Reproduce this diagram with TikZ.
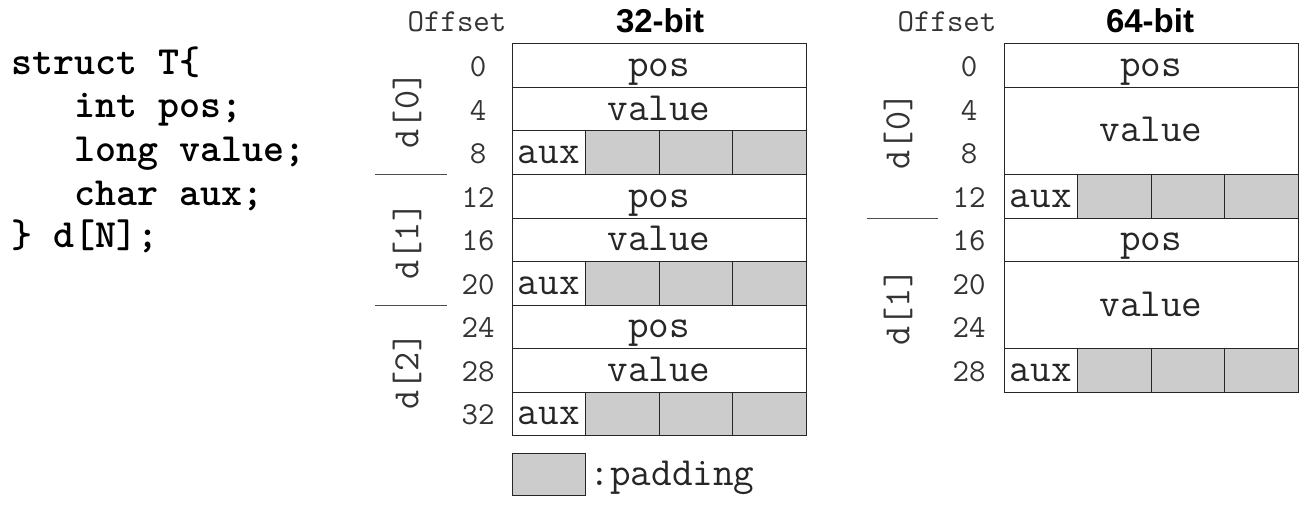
\documentclass[tikz,border=0pt]{standalone}
\usepackage{fontspec}
\setsansfont{Liberation Sans}
\usetikzlibrary{positioning}

\begin{document}
\begin{tikzpicture}[x=1pt,y=-1pt,
    cell/.style={draw=black!85,line width=1pt,minimum height=43.5pt,inner sep=0pt,outer sep=0pt,
        text height=26pt,text depth=4pt,text=black!85,font=\ttfamily\fontsize{40}{40}\selectfont},
    field/.style={cell,minimum width=294pt},
    wide/.style={field,minimum height=87pt},
    auxcell/.style={cell,minimum width=73.5pt},
    pad/.style={auxcell,fill=gray!40},
    offs/.style={text height=22pt,text depth=0pt,inner sep=0pt,text=black!80,font=\ttfamily\fontsize{32}{32}\selectfont},
    idx/.style={rotate=90,text=black!80,font=\ttfamily\fontsize{37}{37}\selectfont},
    sep/.style={draw=black!70,line width=1pt},
    title/.style={anchor=base,inner sep=0pt,font=\sffamily\bfseries\fontsize{33}{33}\selectfont},
    code/.style={anchor=base west,inner sep=0pt,font=\ttfamily\bfseries\fontsize{40}{40}\selectfont}]
    \useasboundingbox (0,0) rectangle (1310,508);

    % the struct
    \node[code] (c1) at (11,75) {struct T\{};
    \node[code] (c2) at (74,118) {int pos;};
    \node[code] (c3) at (74,162) {long value;};
    \node[code] (c4) at (74,205) {char aux;};
    \node[code] (c5) at (11,247) {\} d[N];};

    % 32-bit
    \node[title] (t32) at (660,33) {32-bit};
    \node[offs,anchor=base] (h32) at (457,32) {Offset};
    \node[field,anchor=north west] (p0) at (512,44) {pos};
    \node[field,below=0pt of p0] (v0) {value};
    \node[auxcell,anchor=north west] (a0) at (v0.south west) {aux};
    \node[pad,right=0pt of a0] (a0x) {};
    \node[pad,right=0pt of a0x] (a0y) {};
    \node[pad,right=0pt of a0y] (a0z) {};
    \node[field,anchor=north west] (p1) at (a0.south west) {pos};
    \node[field,below=0pt of p1] (v1) {value};
    \node[auxcell,anchor=north west] (a1) at (v1.south west) {aux};
    \node[pad,right=0pt of a1] (a1x) {};
    \node[pad,right=0pt of a1x] (a1y) {};
    \node[pad,right=0pt of a1y] (a1z) {};
    \node[field,anchor=north west] (p2) at (a1.south west) {pos};
    \node[field,below=0pt of p2] (v2) {value};
    \node[auxcell,anchor=north west] (a2) at (v2.south west) {aux};
    \node[pad,right=0pt of a2] (a2x) {};
    \node[pad,right=0pt of a2x] (a2y) {};
    \node[pad,right=0pt of a2y] (a2z) {};

    \node[offs] (o0) at (478,65.75) {0};
    \node[offs] (o4) at (478,109.25) {4};
    \node[offs] (o8) at (478,152.75) {8};
    \node[offs] (o12) at (478,196.25) {12};
    \node[offs] (o16) at (478,239.75) {16};
    \node[offs] (o20) at (478,283.25) {20};
    \node[offs] (o24) at (478,326.75) {24};
    \node[offs] (o28) at (478,370.25) {28};
    \node[offs] (o32) at (478,413.75) {32};

    \node[idx] (d0) at (407,110) {d[0]};
    \node[idx] (d1) at (407,241) {d[1]};
    \node[idx] (d2) at (407,371) {d[2]};
    \draw[sep] ([xshift=-137pt]a0.south west) -- ++(72,0);
    \draw[sep] ([xshift=-137pt]a1.south west) -- ++(72,0);

    % legend
    \node[pad,minimum height=42pt,anchor=north west] (key) at (512,453) {};
    \node[right=4pt of key,inner sep=0pt,text height=26pt,text depth=4pt,text=black!85,font=\ttfamily\fontsize{40}{40}\selectfont] (keytxt) {:padding};

    % 64-bit
    \node[title] (t64) at (1150,33) {64-bit};
    \node[offs,anchor=base] (h64) at (947,32) {Offset};
    \node[field,anchor=north west] (q0) at (1004,44) {pos};
    \node[wide,below=0pt of q0] (w0) {value};
    \node[auxcell,anchor=north west] (b0) at (w0.south west) {aux};
    \node[pad,right=0pt of b0] (b0x) {};
    \node[pad,right=0pt of b0x] (b0y) {};
    \node[pad,right=0pt of b0y] (b0z) {};
    \node[field,anchor=north west] (q1) at (b0.south west) {pos};
    \node[wide,below=0pt of q1] (w1) {value};
    \node[auxcell,anchor=north west] (b1) at (w1.south west) {aux};
    \node[pad,right=0pt of b1] (b1x) {};
    \node[pad,right=0pt of b1x] (b1y) {};
    \node[pad,right=0pt of b1y] (b1z) {};

    \node[offs] (r0) at (969,65.75) {0};
    \node[offs] (r4) at (969,109.25) {4};
    \node[offs] (r8) at (969,152.75) {8};
    \node[offs] (r12) at (969,196.25) {12};
    \node[offs] (r16) at (969,239.75) {16};
    \node[offs] (r20) at (969,283.25) {20};
    \node[offs] (r24) at (969,326.75) {24};
    \node[offs] (r28) at (969,370.25) {28};

    \node[idx] (e0) at (898,131) {d[0]};
    \node[idx] (e1) at (898,307) {d[1]};
    \draw[sep] ([xshift=-137pt]b0.south west) -- ++(71,0);
\end{tikzpicture}
\end{document}
